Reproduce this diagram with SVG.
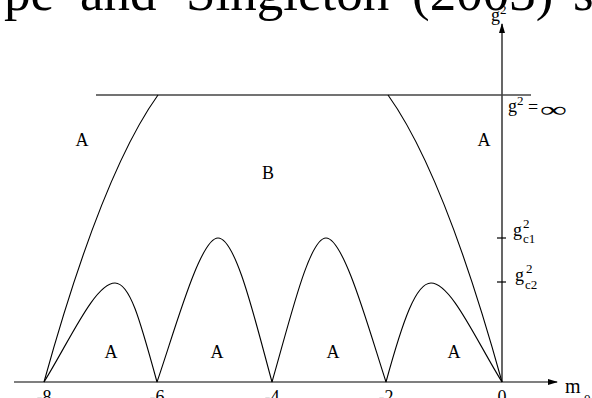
<svg xmlns="http://www.w3.org/2000/svg" width="592" height="398" viewBox="0 0 592 398">
<style>
.t{font-family:"Liberation Serif","Times New Roman",serif;fill:#000}
.big{font-size:53px}
.lbl{font-size:18px;text-anchor:middle}
.g{font-size:18px}
.s{font-size:13px}
.curve{fill:none;stroke:#000;stroke-width:1.1}
.axis{fill:none;stroke:#000;stroke-width:1.2}
.inf{fill:none;stroke:#444;stroke-width:1.3}
</style>
<defs>
<marker id="arr" markerWidth="10" markerHeight="6" refX="9" refY="3" orient="auto" markerUnits="userSpaceOnUse">
<path d="M0,0 L10,3 L0,6 Z" fill="#000"/>
</marker>
</defs>
<rect width="592" height="398" fill="#fff"/>
<g id="heading">
<text class="t big" y="10"><tspan x="4">pe</tspan><tspan x="80">and</tspan><tspan x="186">Singleton</tspan><tspan x="412">(2003)</tspan><tspan x="573">s</tspan></text>
</g>
<g id="axes">
<line class="axis" x1="14" y1="382" x2="557" y2="382" marker-end="url(#arr)"/>
<line class="axis" x1="502" y1="382" x2="502" y2="24" marker-end="url(#arr)"/>
<line class="axis" x1="497" y1="238" x2="506" y2="238"/>
<line class="axis" x1="497" y1="282" x2="506" y2="282"/>
<line class="inf" x1="96" y1="95" x2="531" y2="95"/>
</g>
<g id="connectors">
<path class="curve" d="M44,382 C75,270 115,155 158,95"/>
<path class="curve" d="M502,382 C471,270 431,155 388,95"/>
<path class="curve" d="M44,382 C70,340 95,283 115,283 C130,283 140,320 157,382"/>
<path class="curve" d="M157,382 C175,330 200,238 218,238 C236,238 255,320 272,382"/>
<path class="curve" d="M272,382 C290,320 309,238 326,238 C344,238 369,330 386,382"/>
<path class="curve" d="M386,382 C403,320 416,283 431,283 C451,283 476,340 502,382"/>
</g>
<g id="region-labels">
<text class="t lbl" x="82" y="146">A</text>
<text class="t lbl" x="484" y="146">A</text>
<text class="t lbl" x="268" y="179">B</text>
<text class="t lbl" x="111" y="358">A</text>
<text class="t lbl" x="217" y="358">A</text>
<text class="t lbl" x="333" y="358">A</text>
<text class="t lbl" x="454" y="358">A</text>
</g>
<g id="tick-labels">
<text class="t lbl" x="44" y="403">-8</text>
<text class="t lbl" x="157" y="403">-6</text>
<text class="t lbl" x="272" y="403">-4</text>
<text class="t lbl" x="386" y="403">-2</text>
<text class="t lbl" x="502" y="403">0</text>
</g>
<g id="axis-labels">
<text class="t" x="565" y="393" font-size="20">m</text>
<text class="t s" x="584" y="403">0</text>
<text class="t g" x="491" y="21">g<tspan class="s" dy="-7">2</tspan></text>
<text class="t g" x="508" y="112">g<tspan class="s" dy="-7">2</tspan></text>
<text class="t" x="528" y="113" font-size="18">=</text>
<text class="t" x="540" y="117" font-size="22" textLength="27" lengthAdjust="spacingAndGlyphs">∞</text>
<text class="t g" x="513" y="236">g</text>
<text class="t s" x="523" y="228">2</text>
<text class="t s" x="523" y="243">c1</text>
<text class="t g" x="515" y="281">g</text>
<text class="t s" x="526" y="273">2</text>
<text class="t s" x="525" y="289">c2</text>
</g>
</svg>
